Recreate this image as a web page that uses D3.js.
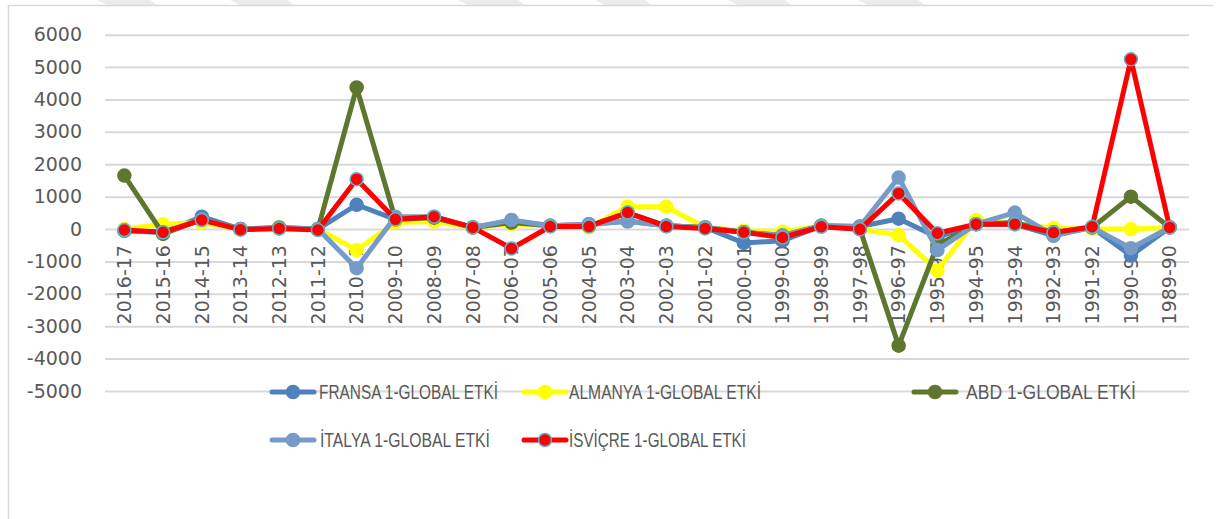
<!DOCTYPE html>
<html>
<head>
<meta charset="utf-8">
<script src="https://cdn.jsdelivr.net/npm/d3@7"></script>
<style>
  body { margin: 0; background: #fff; }
  svg { display: block; }
  .tick text { fill: #595959; font-family: "DejaVu Sans", sans-serif; font-size: 19px; }
  .legend text { fill: #595959; font-family: "Liberation Sans", sans-serif; font-size: 20px; }
</style>
</head>
<body>
<div id="chart"></div>
<script>
// categories (as printed on the x axis, newest first)
var categories = ["2016-17","2015-16","2014-15","2013-14","2012-13","2011-12","2010-11","2009-10","2008-09","2007-08","2006-07","2005-06","2004-05","2003-04","2002-03","2001-02","2000-01","1999-00","1998-99","1997-98","1996-97","1995-96","1994-95","1993-94","1992-93","1991-92","1990-91","1989-90"];

var fransa  = [-60, -100, 380, 0, 20, 0, 750, 300, 350, 50, 250, 100, 150, 250, 100, 50, -430, -360, 100, 80, 320, -250, 150, 150, -200, 50, -820, 50];
var almanya = [0, 150, 200, 0, 50, 0, -650, 200, 230, 50, 150, 100, 50, 690, 690, 50, -50, -80, 100, 0, -190, -1280, 280, 150, 30, 0, 0, 50];
var abd     = [1650, -150, 300, 0, 50, 0, 4370, 300, 350, 50, 200, 100, 100, 500, 100, 50, -100, -200, 100, 0, -3600, -500, 150, 200, -100, 50, 1000, 50];
var italya  = [-50, -100, 300, 0, 30, 0, -1210, 380, 380, 50, 280, 100, 150, 230, 100, 50, -100, -200, 100, 80, 1590, -650, 150, 510, -200, 50, -590, 50];
var isvicre = [-30, -100, 280, -20, 20, -30, 1540, 300, 380, 50, -600, 80, 80, 510, 80, 20, -100, -260, 70, -10, 1100, -130, 150, 150, -110, 70, 5240, 50];

var seriesNames = ["FRANSA 1-GLOBAL ETKİ", "ALMANYA 1-GLOBAL ETKİ", "ABD 1-GLOBAL ETKİ", "İTALYA 1-GLOBAL ETKİ", "İSVİÇRE 1-GLOBAL ETKİ"];
var yTicks = [-5000, -4000, -3000, -2000, -1000, 0, 1000, 2000, 3000, 4000, 5000, 6000];

var W = 1217, H = 519;
var series = [
    {name: seriesNames[0], values: fransa,  color: "#4f81bd", ring: "#4f81bd"},
    {name: seriesNames[1], values: almanya, color: "#ffff00", ring: "#ffff00"},
    {name: seriesNames[2], values: abd,     color: "#5e772f", ring: "#5e772f"},
    {name: seriesNames[3], values: italya,  color: "#769bc9", ring: "#769bc9"},
    {name: seriesNames[4], values: isvicre, color: "#ff0000", ring: "#5bb4cf"}
];

var svg = d3.select("#chart").append("svg")
    .attr("width", W)
    .attr("height", H);

// faint watermark stripes along the top edge
var stripes = [[97, 150], [230, 288], [458, 518], [595, 645], [728, 785], [858, 918]];
svg.selectAll("polygon.wm")
    .data(stripes)
    .enter().append("polygon")
    .attr("class", "wm")
    .attr("fill", "#ececec")
    .attr("points", function(d) {
        return [[d[0], 0], [d[1], 0], [d[1] + 8, 6], [d[0] + 12, 6]].join(" ");
    });

// chart frame (top + left edges are visible)
svg.append("path")
    .attr("d", "M8.5," + H + "V5.5H1213")
    .attr("fill", "none")
    .attr("stroke", "#d9d9d9")
    .attr("stroke-width", 1.5);

var plotL = 105, plotR = 1189;

var x = d3.scaleBand()
    .domain(categories)
    .range([plotL, plotR]);

var y = d3.scaleLinear()
    .domain([-5000, 6000])
    .range([391, 34.7]);

// y axis + gridlines
var yAxis = d3.axisLeft(y)
    .tickValues(yTicks)
    .tickSize(-(plotR - plotL))
    .tickPadding(23)
    .tickFormat(d3.format("d"));

var gy = svg.append("g")
    .attr("transform", "translate(" + plotL + ",0)")
    .call(yAxis);
gy.select(".domain").remove();
gy.selectAll(".tick line")
    .attr("stroke", "#d9d9d9")
    .attr("stroke-width", 2);
gy.selectAll(".tick text").text(function(d) { return d < 0 ? "-" + Math.abs(d) : d; });

// x axis sits on the zero line
var xAxis = d3.axisBottom(x).tickSize(0);
var gx = svg.append("g")
    .attr("transform", "translate(0," + y(0) + ")")
    .call(xAxis);
gx.select(".domain").remove();
gx.selectAll(".tick text")
    .attr("transform", "rotate(-90)")
    .attr("x", -16)
    .attr("y", 0)
    .attr("dy", "0.36em")
    .style("text-anchor", "end");

// lines
var line = d3.line()
    .x(function(d, i) { return x(categories[i]) + x.bandwidth() / 2; })
    .y(function(d) { return y(d); });

var g = svg.selectAll("g.series")
    .data(series)
    .enter().append("g")
    .attr("class", "series");

g.append("path")
    .attr("d", function(s) { return line(s.values); })
    .attr("fill", "none")
    .attr("stroke", function(s) { return s.color; })
    .attr("stroke-width", 5)
    .attr("stroke-linejoin", "round")
    .attr("stroke-linecap", "round");

g.selectAll("circle")
    .data(function(s) { return s.values.map(function(v, i) { return {v: v, i: i, s: s}; }); })
    .enter().append("circle")
    .attr("cx", function(d) { return x(categories[d.i]) + x.bandwidth() / 2; })
    .attr("cy", function(d) { return y(d.v); })
    .attr("r", 6.5)
    .attr("fill", function(d) { return d.s.color; })
    .attr("stroke", function(d) { return d.s.ring; })
    .attr("stroke-width", 1.5);

// legend
var legendPos = [
    {cx: 293, tx: 319, cy: 392, len: 179},
    {cx: 545, tx: 569, cy: 392, len: 192},
    {cx: 935, tx: 966, cy: 392, len: 170},
    {cx: 293, tx: 320, cy: 440, len: 170},
    {cx: 545, tx: 569, cy: 440, len: 177}
];

var lg = svg.selectAll("g.legend")
    .data(series)
    .enter().append("g")
    .attr("class", "legend")
    .attr("transform", function(d, i) { return "translate(0," + legendPos[i].cy + ")"; });

lg.append("line")
    .attr("x1", function(d, i) { return legendPos[i].cx - 21; })
    .attr("x2", function(d, i) { return legendPos[i].cx + 21; })
    .attr("stroke", function(d) { return d.color; })
    .attr("stroke-width", 5)
    .attr("stroke-linecap", "round");

lg.append("circle")
    .attr("cx", function(d, i) { return legendPos[i].cx; })
    .attr("r", 6.5)
    .attr("fill", function(d) { return d.color; })
    .attr("stroke", function(d) { return d.ring; })
    .attr("stroke-width", 1.5);

lg.append("text")
    .attr("x", function(d, i) { return legendPos[i].tx; })
    .attr("dy", "0.36em")
    .attr("textLength", function(d, i) { return legendPos[i].len; })
    .attr("lengthAdjust", "spacingAndGlyphs")
    .text(function(d) { return d.name; });
</script>
</body>
</html>
